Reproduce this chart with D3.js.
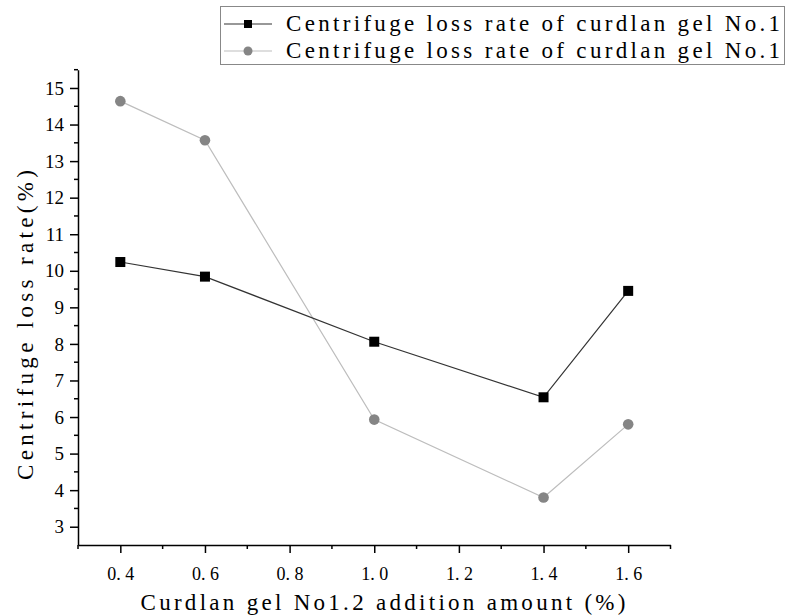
<!DOCTYPE html>
<html>
<head>
<meta charset="utf-8">
<title>Centrifuge loss rate</title>
<script src="https://d3js.org/d3.v7.min.js"></script>
<style>
  body { margin: 0; background: #fff; }
  text { font-family: "Liberation Serif", "DejaVu Serif", serif; fill: #000; }
</style>
</head>
<body>
<script>
const amounts = [0.4, 0.6, 1.0, 1.4, 1.6]
const squareSeries = [10.24, 9.84, 8.06, 6.54, 9.45]
const circleSeries = [14.64, 13.57, 5.93, 3.8, 5.8]
const xTicks = [0.4, 0.6, 0.8, 1.0, 1.2, 1.4, 1.6]
const yTicks = [3, 4, 5, 6, 7, 8, 9, 10, 11, 12, 13, 14, 15]
const legendLabels = ["Centrifuge loss rate of curdlan gel No.1", "Centrifuge loss rate of curdlan gel No.1"]

const w = 785, h = 616
const svg = d3.select("body").append("svg").attr("width", w).attr("height", h)

const x = d3.scaleLinear().domain([0.3, 1.7]).range([78, 670.5])
const y = d3.scaleLinear().domain([2.5, 15.5]).range([545, 69.7])

// axes
const xAxis = svg.append("g").attr("transform", "translate(0,545)")
  .call(d3.axisBottom(x).tickValues(xTicks).tickSize(8).tickPadding(14)
    .tickFormat(d => d3.format(".1f")(d).replace(".", ". ")).tickSizeOuter(0))
xAxis.append("g").selectAll("line").data(d3.range(0.3, 1.71, 0.2))
  .enter().append("line")
  .attr("x1", d => x(d)).attr("x2", d => x(d)).attr("y1", 0).attr("y2", 4)
  .attr("stroke", "#000").attr("stroke-width", 1.5)

const yAxis = svg.append("g").attr("transform", "translate(78,0)")
  .call(d3.axisLeft(y).tickValues(yTicks).tickSize(8).tickPadding(6).tickSizeOuter(0))
yAxis.append("g").selectAll("line").data(d3.range(3.5, 15.51, 1))
  .enter().append("line")
  .attr("y1", d => y(d)).attr("y2", d => y(d)).attr("x1", 0).attr("x2", -4)
  .attr("stroke", "#000").attr("stroke-width", 1.5)

svg.selectAll(".domain, .tick line").attr("stroke", "#000").attr("stroke-width", 1.5)
xAxis.selectAll(".tick text").style("font-size", "18px").style("white-space", "pre")
  .attr("xml:space", "preserve")
yAxis.selectAll(".tick text").style("font-size", "19px")

// axis titles
svg.append("text").attr("x", 383).attr("y", 610).attr("text-anchor", "middle")
  .style("font-size", "23px").attr("textLength", 485).attr("lengthAdjust", "spacing")
  .text("Curdlan gel No1.2 addition amount (%)")
svg.append("text").attr("transform", "translate(33,325) rotate(-90)")
  .attr("text-anchor", "middle").style("font-size", "23px")
  .attr("textLength", 310).attr("lengthAdjust", "spacing")
  .text("Centrifuge loss rate(%)")

// lines
const line = d3.line().x((d, i) => x(amounts[i])).y(d => y(d))
svg.append("path").datum(circleSeries).attr("d", line)
  .attr("fill", "none").attr("stroke", "#bdbdbd").attr("stroke-width", 1.2)
svg.append("path").datum(squareSeries).attr("d", line)
  .attr("fill", "none").attr("stroke", "#333").attr("stroke-width", 1.2)

svg.selectAll(".sq").data(squareSeries).enter().append("rect")
  .attr("x", (d, i) => x(amounts[i]) - 5).attr("y", d => y(d) - 5)
  .attr("width", 10).attr("height", 10).attr("fill", "#000")
svg.selectAll(".ci").data(circleSeries).enter().append("circle")
  .attr("cx", (d, i) => x(amounts[i])).attr("cy", d => y(d)).attr("r", 5.3)
  .attr("fill", "#858585")

// legend
const lg = svg.append("g")
lg.append("rect").attr("x", 220.5).attr("y", 6.5).attr("width", 564).attr("height", 58)
  .attr("fill", "#fff").attr("stroke", "#888").attr("stroke-width", 1)
const rows = [
  {label: legendLabels[0], color: "#333", shape: "square", y: 24},
  {label: legendLabels[1], color: "#bdbdbd", shape: "circle", y: 51}
]
rows.forEach(r => {
  lg.append("line").attr("x1", 224).attr("x2", 272).attr("y1", r.y).attr("y2", r.y)
    .attr("stroke", r.color).attr("stroke-width", 1.2)
  if (r.shape === "square") {
    lg.append("rect").attr("x", 244).attr("y", r.y - 4).attr("width", 8).attr("height", 8).attr("fill", "#000")
  } else {
    lg.append("circle").attr("cx", 248).attr("cy", r.y).attr("r", 4.5).attr("fill", "#858585")
  }
  lg.append("text").attr("x", 286).attr("y", r.y + 7).style("font-size", "23px")
    .attr("textLength", 494).attr("lengthAdjust", "spacing").text(r.label)
})
</script>
</body>
</html>
